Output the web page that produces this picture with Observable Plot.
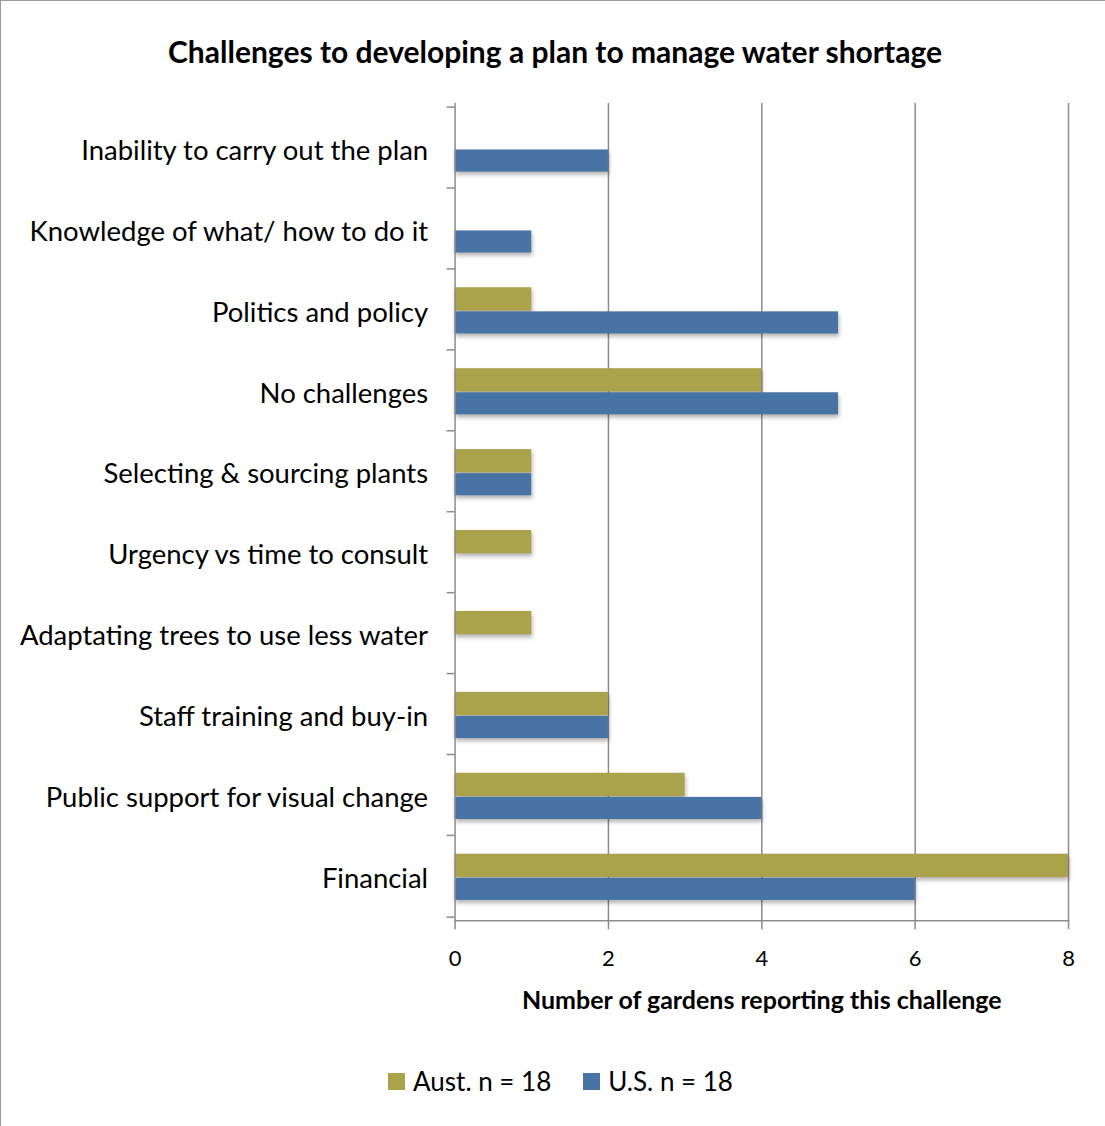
<!DOCTYPE html>
<html>
<head>
<meta charset="utf-8">
<script src="https://cdn.jsdelivr.net/npm/d3@7"></script>
<script src="https://cdn.jsdelivr.net/npm/@observablehq/plot@0.6"></script>
<style>
  html, body { margin: 0; padding: 0; background: #fff; }
  #frame { position: relative; width: 1105px; height: 1126px; box-sizing: border-box;
           border-top: 1px solid #9a9a9a; border-left: 1px solid #9a9a9a; font-family: Lato, "Open Sans", sans-serif; }
  #title { height: 99px; display: flex; align-items: center; justify-content: center;
           font-size: 30px; font-weight: bold; color: #000; padding-left: 4px; box-sizing: border-box; }
  #chart svg { display: block; }
  #chart g[aria-label="bar"] { filter: drop-shadow(1px 3px 2px rgba(0,0,0,0.3)); }
  #legend { position: absolute; top: 1064px; left: 0; width: 1105px; display: flex; justify-content: center;
            align-items: center; gap: 32px; font-size: 26px; color: #000; padding-left: 14px; box-sizing: border-box; }
  #legend .item { display: flex; align-items: center; gap: 8px; }
  #legend .sw { width: 17px; height: 17px; display: inline-block; }
</style>
</head>
<body>
<div id="frame">
  <div id="title"></div>
  <div id="chart"></div>
  <div id="legend"></div>
</div>
<script>
const titleText = "Challenges to developing a plan to manage water shortage";
const xLabel = "Number of gardens reporting this challenge";
const categories = [
  "Inability to carry out the plan",
  "Knowledge of what/ how to do it",
  "Politics and policy",
  "No challenges",
  "Selecting & sourcing plants",
  "Urgency vs time to consult",
  "Adaptating trees to use less water",
  "Staff training and buy-in",
  "Public support for visual change",
  "Financial"
];
const austValues = [0, 0, 1, 4, 1, 1, 1, 2, 3, 8];
const usValues   = [2, 1, 5, 5, 1, 0, 0, 2, 4, 6];
const xTicks = [0, 2, 4, 6, 8];
const seriesNames = ["Aust. n = 18", "U.S. n = 18"];
const seriesColors = ["#aba34c", "#4774a4"];

document.getElementById("title").textContent = titleText;

const austData = categories.map((c, i) => ({category: c, value: austValues[i]})).filter(d => d.value > 0);
const usData = categories.map((c, i) => ({category: c, value: usValues[i]})).filter(d => d.value > 0);

const H = 930, mTop = 3, mBottom = 109;
const bandPx = (H - mTop - mBottom) / categories.length;
const axisGray = "#8c8c8c";

const chart = Plot.plot({
  width: 1105,
  height: H,
  marginLeft: 454,
  marginRight: 37,
  marginTop: mTop,
  marginBottom: mBottom,
  style: {fontFamily: "Lato, 'Open Sans', sans-serif", fontSize: "22px", color: "#000", background: "transparent"},
  x: {domain: [0, 8], label: null},
  y: {domain: categories, padding: 0, label: null},
  marks: [
    Plot.gridX(xTicks.filter(t => t > 0), {stroke: axisGray, strokeOpacity: 1, strokeWidth: 1.5}),
    Plot.barX(austData, {x: "value", y: "category", fill: seriesColors[0],
      insetTop: bandPx * 0.225, insetBottom: bandPx * 0.48}),
    Plot.barX(usData, {x: "value", y: "category", fill: seriesColors[1],
      insetTop: bandPx * 0.52, insetBottom: bandPx * 0.2}),
    Plot.ruleX([0], {stroke: axisGray, strokeWidth: 1.5}),
    Plot.frame({anchor: "bottom", stroke: axisGray, strokeWidth: 1.5}),
    Plot.axisX(xTicks, {tickSize: 9, tickPadding: 21, stroke: axisGray, strokeWidth: 1.5, fontSize: 22, fill: "#000"}),
    Plot.axisY({tickSize: 0, tickPadding: 27, fontSize: 27.5, fill: "#000", dy: 3}),
    Plot.axisY({tickSize: 8, tickFormat: () => "", dy: -bandPx / 2, stroke: axisGray, strokeWidth: 1.5}),
    Plot.axisY([categories[categories.length - 1]], {tickSize: 8, tickFormat: () => "", dy: bandPx / 2, stroke: axisGray, strokeWidth: 1.5}),
    Plot.text([xLabel], {frameAnchor: "bottom", dy: 88, fontWeight: "bold", fontSize: 25, fill: "#000"})
  ]
});
document.getElementById("chart").appendChild(chart);

const legend = document.getElementById("legend");
seriesNames.forEach((name, i) => {
  const item = document.createElement("div");
  item.className = "item";
  const sw = document.createElement("span");
  sw.className = "sw";
  sw.style.background = seriesColors[i];
  const label = document.createElement("span");
  label.textContent = name;
  item.appendChild(sw);
  item.appendChild(label);
  legend.appendChild(item);
});
</script>
</body>
</html>
